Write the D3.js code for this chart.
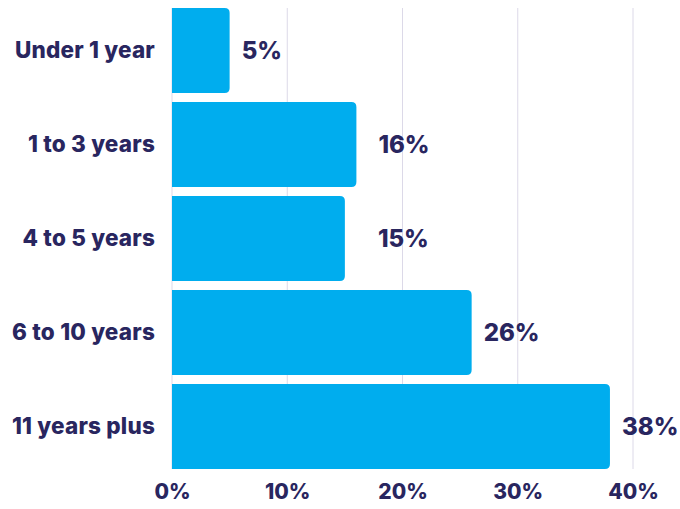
<!DOCTYPE html>
<html>
<head>
<meta charset="utf-8">
<script src="https://cdn.jsdelivr.net/npm/d3@7"></script>
<style>
  body { margin: 0; background: #fff; }
  text { font-family: Inter, "Open Sans", sans-serif; font-weight: 800; fill: #29265f; }
</style>
</head>
<body>
<div id="chart"></div>
<script>
const categories = ['Under 1 year', '1 to 3 years', '4 to 5 years', '6 to 10 years', '11 years plus'];
const values = [5, 16, 15, 26, 38];
const xTicks = [0, 10, 20, 30, 40];

const width = 680, height = 509;
const margin = {top: 8, right: 47, bottom: 40, left: 172};

const svg = d3.select('#chart').append('svg')
  .attr('width', width)
  .attr('height', height);

const x = d3.scaleLinear()
  .domain([0, 40])
  .range([margin.left, width - margin.right]);

const y = d3.scaleBand()
  .domain(categories)
  .range([margin.top, height - margin.bottom])
  .paddingInner(0.095)
  .paddingOuter(0);

// gridlines
svg.append('g')
  .selectAll('line')
  .data(xTicks)
  .join('line')
  .attr('x1', d => x(d)).attr('x2', d => x(d))
  .attr('y1', margin.top).attr('y2', height - margin.bottom)
  .attr('stroke', '#dcd9e8')
  .attr('stroke-width', 1);

// bars, square on the left, rounded on the right
const r = 5;
svg.append('g')
  .selectAll('path')
  .data(categories)
  .join('path')
  .attr('fill', '#00adee')
  .attr('d', (c, i) => {
    const x0 = x(0), x1 = x(values[i]);
    const y0 = y(c), y1 = y(c) + y.bandwidth();
    return `M${x0},${y0}H${x1 - r}Q${x1},${y0} ${x1},${y0 + r}V${y1 - r}Q${x1},${y1} ${x1 - r},${y1}H${x0}Z`;
  });

// value labels
const nudge = [0, 10, 21, 0, 0];
svg.append('g')
  .selectAll('text')
  .data(categories)
  .join('text')
  .attr('x', (c, i) => x(values[i]) + 12 + nudge[i])
  .attr('y', c => y(c) + y.bandwidth() / 2)
  .attr('dy', '0.36em')
  .style('font-size', '24px')
  .text((c, i) => values[i] + '%');

// category axis
const yAxis = d3.axisLeft(y).tickSize(0).tickPadding(17);
const gy = svg.append('g')
  .attr('transform', `translate(${margin.left},0)`)
  .call(yAxis);
gy.select('.domain').remove();
gy.selectAll('text')
  .style('font-size', '22.5px')
  .style('letter-spacing', '0.2px')
  .attr('fill', null);

// percent axis
const xAxis = d3.axisBottom(x).tickValues(xTicks).tickFormat(d => d + '%').tickSize(0).tickPadding(15);
const gx = svg.append('g')
  .attr('transform', `translate(0,${height - margin.bottom})`)
  .call(xAxis);
gx.select('.domain').remove();
gx.selectAll('text')
  .style('font-size', '21px')
  .attr('fill', null);
</script>
</body>
</html>
